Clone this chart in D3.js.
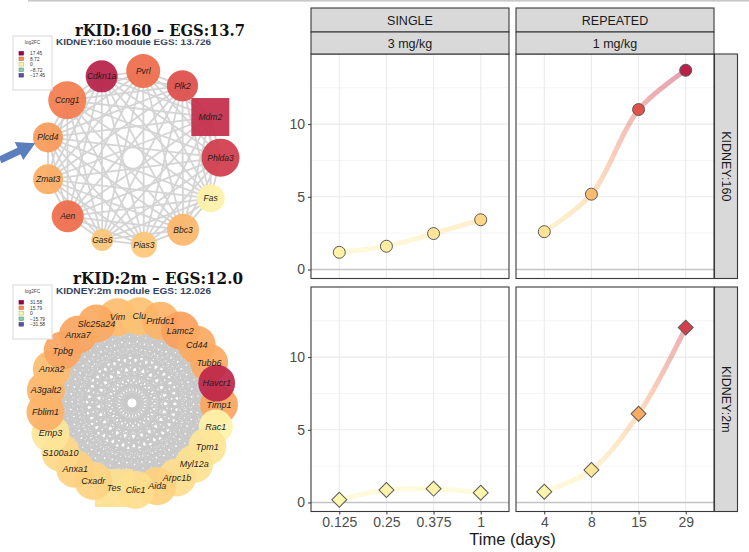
<!DOCTYPE html>
<html>
<head>
<meta charset="utf-8">
<script src="https://cdn.jsdelivr.net/npm/d3@7"></script>
<style>
  body { margin: 0; background: #fff; }
  svg { display: block; }
</style>
</head>
<body>
<div id="vis"></div>
<script>
// ---- data ----
// time course chart
const TREATMENTS = ["SINGLE", "REPEATED"];
const DOSES = ["3 mg/kg", "1 mg/kg"];
const MODULES = ["KIDNEY:160", "KIDNEY:2m"];
const TIMES_SINGLE = ["0.125", "0.25", "0.375", "1"];
const TIMES_REPEATED = ["4", "8", "15", "29"];
const EGS_160_SINGLE = [1.18, 1.6, 2.47, 3.42];
const EGS_160_REPEATED = [2.6, 5.18, 11.0, 13.7];
const EGS_2M_SINGLE = [0.19, 0.86, 0.95, 0.67];
const EGS_2M_REPEATED = [0.74, 2.24, 6.1, 12.03];
const Y_TICKS = [0, 5, 10];
const Y_MINOR = [2.5, 7.5, 12.5];

// module KIDNEY:160 network
const NET160_GENES = ["Cdkn1a", "Pvrl", "Plk2", "Mdm2", "Phlda3", "Fas", "Bbc3", "Pias3", "Gas6", "Aen", "Zmat3", "Plcd4", "Ccng1"];
const NET160_LFC = [15.7, 10.8, 12.9, 15.0, 14.0, 1.4, 6.3, 5.2, 5.2, 10.8, 7.0, 8.0, 9.8];
const NET160_SCORE = [0.8, 0.85, 0.78, 0.95, 0.95, 0.7, 0.8, 0.65, 0.55, 0.8, 0.75, 0.75, 0.95];
const NET160_SQUARE = ["Mdm2"];
const NET160_LEGEND = [17.45, 8.72, 0, -8.72, -17.45];

// module KIDNEY:2m network
const NET2M_GENES = ["Vim", "Clu", "Prtfdc1", "Lamc2", "Cd44", "Tubb6", "Havcr1", "Timp1", "Rac1", "Tpm1", "Myl12a", "Arpc1b", "Aida",
  "Clic1", "Tes", "Cxadr", "Anxa1", "S100a10", "Emp3", "Fblim1", "A3galt2", "Anxa2", "Tpbg", "Anxa7", "Slc25a24"];
const NET2M_LFC = [10.7, 10.1, 11.7, 13.9, 12.9, 12.9, 27.8, 13.3, 1.9, 5.0, 5.5, 6.3, 8.2,
  6.3, 6.0, 7.6, 8.2, 7.0, 5.0, 12.0, 11.7, 10.7, 13.3, 13.3, 12.9];
const NET2M_SCORE = [0.95, 0.95, 0.95, 0.95, 0.95, 0.95, 0.92, 0.95, 0.85, 0.95, 0.95, 0.95, 0.95,
  0.95, 0.95, 0.95, 0.95, 0.95, 0.95, 0.95, 0.95, 0.95, 0.95, 0.95, 0.95];
const NET2M_SQUARE = ["Tes"];
const NET2M_LEGEND = [31.58, 15.79, 0, -15.79, -31.58];

// ---- frame ----
const FRAME_WIDTH = 749;
const FRAME_HEIGHT = 552;

const SVG = d3.select("#vis")
  .append("svg")
  .attr("width", FRAME_WIDTH)
  .attr("height", FRAME_HEIGHT);

SVG.append("rect").attr("width", FRAME_WIDTH).attr("height", FRAME_HEIGHT).attr("fill", "#fff");
// thin slide rule on top
SVG.append("rect").attr("x", 28).attr("y", 0).attr("width", FRAME_WIDTH - 28).attr("height", 1.6).attr("fill", "#c8c8c8");

// ---- networks ----
function drawNetwork(cfg) {
  const g = SVG.append("g");
  const n = cfg.genes.length;
  const maxLfc = d3.max(cfg.legend);

  const ANGLE = d3.scaleLinear().domain([0, n]).range([cfg.start, cfg.start + 2 * Math.PI]);
  const RADIUS = d3.scaleLinear().domain([0, 1]).range([0, 20]);
  const COLOR = d3.scaleDiverging(t => d3.interpolateSpectral(1 - t)).domain([-maxLfc, 0, maxLfc]);

  const nodes = cfg.genes.map((gene, i) => ({
    gene: gene,
    lfc: cfg.lfc[i],
    r: RADIUS(cfg.score[i]),
    square: cfg.square.includes(gene),
    x: cfg.cx + cfg.R * Math.sin(ANGLE(i)),
    y: cfg.cy - cfg.R * Math.cos(ANGLE(i)),
    i: i
  }));

  // every gene is linked with every other one
  const edges = d3.cross(nodes, nodes).filter(([a, b]) => a.i < b.i);
  g.selectAll(".edge")
    .data(edges)
    .enter()
    .append("line")
    .attr("x1", d => d[0].x).attr("y1", d => d[0].y)
    .attr("x2", d => d[1].x).attr("y2", d => d[1].y)
    .attr("stroke", cfg.edgeColor)
    .attr("stroke-width", cfg.edgeWidth);

  const ordered = nodes.slice().sort((a, b) => (a.gene === cfg.top) - (b.gene === cfg.top));
  const nodeG = g.selectAll(".node")
    .data(ordered)
    .enter()
    .append("g")
    .attr("transform", d => `translate(${d.x},${d.y})`);

  nodeG.filter(d => !d.square)
    .append("circle")
    .attr("r", d => d.r)
    .attr("fill", d => COLOR(d.lfc))
    .attr("fill-opacity", 0.92);

  nodeG.filter(d => d.square)
    .append("rect")
    .attr("x", d => -d.r).attr("y", d => -d.r)
    .attr("width", d => 2 * d.r).attr("height", d => 2 * d.r)
    .attr("fill", d => COLOR(d.lfc))
    .attr("fill-opacity", 0.92);

  // labels above all nodes
  g.selectAll(".label")
    .data(nodes)
    .enter()
    .append("text")
    .attr("x", d => d.x).attr("y", d => d.y)
    .attr("text-anchor", "middle")
    .attr("dy", "0.35em")
    .attr("font-family", "Liberation Sans, Arial, sans-serif")
    .attr("font-style", "italic")
    .attr("font-size", cfg.fontSize)
    .attr("fill", "#1e1e1e")
    .text(d => d.gene);

  // legend box
  const lg = g.append("g").attr("transform", `translate(${cfg.legendX},${cfg.legendY})`);
  lg.append("rect").attr("width", 39).attr("height", 54)
    .attr("fill", "#fff").attr("stroke", "#dedede").attr("stroke-width", 1.2);
  lg.append("text").attr("x", 19.5).attr("y", 7.5).attr("text-anchor", "middle")
    .attr("font-family", "Liberation Sans, Arial, sans-serif").attr("font-size", 4.8).attr("fill", "#444")
    .text("log2FC");
  const row = lg.selectAll(".row").data(cfg.legend).enter().append("g")
    .attr("transform", (d, i) => `translate(6,${15.5 + i * 5.5})`);
  row.append("rect").attr("width", 4.5).attr("height", 3.6)
    .attr("fill", d => COLOR(d))
    .attr("stroke", d => d3.color(COLOR(d)).darker(0.8)).attr("stroke-width", 0.6);
  row.append("text").attr("x", 11).attr("y", 3.5)
    .attr("font-family", "Liberation Sans, Arial, sans-serif").attr("font-size", 4.9).attr("fill", "#333")
    .text(d => d3.format(".2f")(d).replace(/\.00$/, ""));

  // subtitle partly hidden by the slide title
  g.append("text").attr("x", cfg.legendX + 43).attr("y", cfg.subY)
    .attr("font-family", "Liberation Sans, Arial, sans-serif").attr("font-weight", "bold")
    .attr("font-size", 9.5).attr("fill", "#34445f")
    .attr("textLength", 155).attr("lengthAdjust", "spacingAndGlyphs")
    .text(cfg.subtitle);
  g.append("rect").attr("x", cfg.titleX - 4).attr("y", cfg.titleY - 16).attr("width", 180).attr("height", 19.5)
    .attr("fill", "#fff");
  g.append("text").attr("x", cfg.titleX).attr("y", cfg.titleY)
    .attr("font-family", "DejaVu Serif, Liberation Serif, serif").attr("font-weight", "bold")
    .attr("font-size", 16).attr("fill", "#111")
    .attr("textLength", 170).attr("lengthAdjust", "spacingAndGlyphs")
    .text(cfg.title);

  return nodes;
}

const NODES160 = drawNetwork({
  genes: NET160_GENES, lfc: NET160_LFC, score: NET160_SCORE, square: NET160_SQUARE, legend: NET160_LEGEND,
  cx: 133, cy: 158, R: 87.5, start: -21 * Math.PI / 180, top: "",
  fontSize: 8.5, edgeColor: "#d4d4d4", edgeWidth: 1.8,
  legendX: 13, legendY: 36, subY: 44.5, titleX: 75, titleY: 36,
  title: "rKID:160 \u2013 EGS:13.7", subtitle: "KIDNEY:160 module EGS: 13.726"
});

drawNetwork({
  genes: NET2M_GENES, lfc: NET2M_LFC, score: NET2M_SCORE, square: NET2M_SQUARE, legend: NET2M_LEGEND,
  cx: 132, cy: 403, R: 87, start: -9.6 * Math.PI / 180, top: "Havcr1",
  fontSize: 9, edgeColor: "#c9c9c9", edgeWidth: 1.6,
  legendX: 13, legendY: 285, subY: 293.5, titleX: 73, titleY: 284,
  title: "rKID:2m \u2013 EGS:12.0", subtitle: "KIDNEY:2m module EGS: 12.026"
});

// blue arrow pointing at Plcd4
(function () {
  const target = NODES160.find(d => d.gene === "Plcd4");
  const tail = [0, 160];
  const dx = target.x - tail[0], dy = target.y - tail[1];
  const len = Math.hypot(dx, dy);
  const ux = dx / len, uy = dy / len, nx = -uy, ny = ux;
  const tip = [target.x - ux * (target.r - 1), target.y - uy * (target.r - 1)];
  const headL = 18, headW = 10, shaftW = 3.6;
  const neck = [tip[0] - ux * headL, tip[1] - uy * headL];
  const pts = [
    [tail[0] + nx * shaftW, tail[1] + ny * shaftW],
    [neck[0] + nx * shaftW, neck[1] + ny * shaftW],
    [neck[0] + nx * headW, neck[1] + ny * headW],
    tip,
    [neck[0] - nx * headW, neck[1] - ny * headW],
    [neck[0] - nx * shaftW, neck[1] - ny * shaftW],
    [tail[0] - nx * shaftW, tail[1] - ny * shaftW]
  ];
  SVG.append("path").attr("d", d3.line()(pts) + "Z").attr("fill", "#5b7fbd");
})();

// ---- faceted time course ----
const PANEL_LEFT = [311, 516];
const PANEL_TOP = [54, 287];
const PANEL_W = 198;
const PANEL_H = 224.5;
const FONT = "Liberation Sans, Arial, sans-serif";

const CHART_COLOR = d3.scaleLinear().domain([0, 15.3]).range([0.5, 0]);
const pointColor = v => d3.interpolateSpectral(CHART_COLOR(v));

const PANELS = [
  { row: 0, col: 0, times: TIMES_SINGLE, values: EGS_160_SINGLE },
  { row: 0, col: 1, times: TIMES_REPEATED, values: EGS_160_REPEATED },
  { row: 1, col: 0, times: TIMES_SINGLE, values: EGS_2M_SINGLE },
  { row: 1, col: 1, times: TIMES_REPEATED, values: EGS_2M_REPEATED }
];

const defs = SVG.append("defs");

PANELS.forEach((p, k) => {
  const g = SVG.append("g").attr("transform", `translate(${PANEL_LEFT[p.col]},${PANEL_TOP[p.row]})`);

  const X_SCALE = d3.scalePoint().domain(p.times).range([0, PANEL_W]).padding(0.6);
  const Y_SCALE = d3.scaleLinear().domain([-0.62, 14.82]).range([PANEL_H, 0]);

  g.append("rect").attr("width", PANEL_W).attr("height", PANEL_H).attr("fill", "#fff");

  // grid
  g.selectAll(".minor").data(Y_MINOR).enter().append("line")
    .attr("x1", 0).attr("x2", PANEL_W)
    .attr("y1", d => Y_SCALE(d)).attr("y2", d => Y_SCALE(d))
    .attr("stroke", "#f2f2f2").attr("stroke-width", 0.8);
  g.selectAll(".major").data(Y_TICKS).enter().append("line")
    .attr("x1", 0).attr("x2", PANEL_W)
    .attr("y1", d => Y_SCALE(d)).attr("y2", d => Y_SCALE(d))
    .attr("stroke", "#ebebeb").attr("stroke-width", 1.1);
  g.selectAll(".vgrid").data(p.times).enter().append("line")
    .attr("x1", d => X_SCALE(d)).attr("x2", d => X_SCALE(d))
    .attr("y1", 0).attr("y2", PANEL_H)
    .attr("stroke", "#ebebeb").attr("stroke-width", 1.1);

  // zero line
  g.append("line").attr("x1", 0).attr("x2", PANEL_W)
    .attr("y1", Y_SCALE(0)).attr("y2", Y_SCALE(0))
    .attr("stroke", "#c4c4c4").attr("stroke-width", 1.6);

  // gradient line through the points (gradient in the panel's own coordinates)
  const pts = p.times.map((t, i) => ({ t: t, v: p.values[i] }));
  const gradId = "grad" + k;
  const x0 = X_SCALE(p.times[0]), x1 = X_SCALE(p.times[p.times.length - 1]);
  const grad = defs.append("linearGradient").attr("id", gradId)
    .attr("gradientUnits", "userSpaceOnUse")
    .attr("x1", x0).attr("x2", x1)
    .attr("y1", 0).attr("y2", 0);
  grad.selectAll("stop").data(pts).enter().append("stop")
    .attr("offset", d => (X_SCALE(d.t) - x0) / (x1 - x0))
    .attr("stop-color", d => pointColor(d.v));

  const LINE = d3.line()
    .x(d => X_SCALE(d.t))
    .y(d => Y_SCALE(d.v))
    .curve(d3.curveCatmullRom.alpha(0.5));

  g.append("path")
    .attr("d", LINE(pts))
    .attr("fill", "none")
    .attr("stroke", `url(#${gradId})`)
    .attr("stroke-opacity", 0.42)
    .attr("stroke-width", 5)
    .attr("stroke-linecap", "round");

  // points: circles for KIDNEY:160, diamonds for KIDNEY:2m
  if (p.row === 0) {
    g.selectAll(".pt").data(pts).enter().append("circle")
      .attr("cx", d => X_SCALE(d.t)).attr("cy", d => Y_SCALE(d.v))
      .attr("r", 6)
      .attr("fill", d => pointColor(d.v))
      .attr("stroke", "#5a5a5a").attr("stroke-width", 1);
  } else {
    g.selectAll(".pt").data(pts).enter().append("path")
      .attr("d", d3.symbol().type(d3.symbolSquare).size(112))
      .attr("transform", d => `translate(${X_SCALE(d.t)},${Y_SCALE(d.v)}) rotate(45)`)
      .attr("fill", d => pointColor(d.v))
      .attr("stroke", "#5a5a5a").attr("stroke-width", 1);
  }

  // border
  g.append("rect").attr("width", PANEL_W).attr("height", PANEL_H)
    .attr("fill", "none").attr("stroke", "#3a3a3a").attr("stroke-width", 1.1);

  // axes
  if (p.col === 0) {
    const ya = g.append("g").call(d3.axisLeft(Y_SCALE).tickValues(Y_TICKS).tickSize(3).tickPadding(3));
    ya.select(".domain").remove();
    ya.selectAll("line").attr("stroke", "#333");
    ya.selectAll("text").attr("font-family", FONT).attr("font-size", 14).attr("fill", "#4d4d4d");
  }
  if (p.row === 1) {
    const xa = g.append("g").attr("transform", `translate(0,${PANEL_H})`)
      .call(d3.axisBottom(X_SCALE).tickSize(3).tickPadding(3));
    xa.select(".domain").remove();
    xa.selectAll("line").attr("stroke", "#333");
    xa.selectAll("text").attr("font-family", FONT).attr("font-size", 14).attr("fill", "#4d4d4d");
  }
});

// top strips
TREATMENTS.forEach((t, c) => {
  const g = SVG.append("g").attr("transform", `translate(${PANEL_LEFT[c]},8)`);
  g.append("rect").attr("width", PANEL_W).attr("height", 24)
    .attr("fill", "#d9d9d9").attr("stroke", "#3a3a3a").attr("stroke-width", 1.1);
  g.append("rect").attr("y", 24).attr("width", PANEL_W).attr("height", 22)
    .attr("fill", "#d9d9d9").attr("stroke", "#3a3a3a").attr("stroke-width", 1.1);
  g.append("text").attr("x", PANEL_W / 2).attr("y", 12).attr("dy", "0.36em")
    .attr("text-anchor", "middle").attr("font-family", FONT).attr("font-size", 12.5).attr("fill", "#1a1a1a")
    .text(t);
  g.append("text").attr("x", PANEL_W / 2).attr("y", 35).attr("dy", "0.36em")
    .attr("text-anchor", "middle").attr("font-family", FONT).attr("font-size", 12.5).attr("fill", "#1a1a1a")
    .text(DOSES[c]);
});

// right strips
MODULES.forEach((m, r) => {
  const x = PANEL_LEFT[1] + PANEL_W + 0.5;
  const g = SVG.append("g").attr("transform", `translate(${x},${PANEL_TOP[r]})`);
  g.append("rect").attr("width", 23).attr("height", PANEL_H)
    .attr("fill", "#d9d9d9").attr("stroke", "#3a3a3a").attr("stroke-width", 1.1);
  g.append("text")
    .attr("transform", `translate(11.5,${PANEL_H / 2}) rotate(90)`)
    .attr("dy", "0.36em")
    .attr("text-anchor", "middle").attr("font-family", FONT).attr("font-size", 12.5).attr("fill", "#1a1a1a")
    .text(m);
});

// x axis title
SVG.append("text")
  .attr("x", PANEL_LEFT[0] + (PANEL_LEFT[1] + PANEL_W - PANEL_LEFT[0]) / 2)
  .attr("y", 545)
  .attr("text-anchor", "middle")
  .attr("font-family", FONT).attr("font-size", 16.5).attr("fill", "#1a1a1a")
  .text("Time (days)");
</script>
</body>
</html>
